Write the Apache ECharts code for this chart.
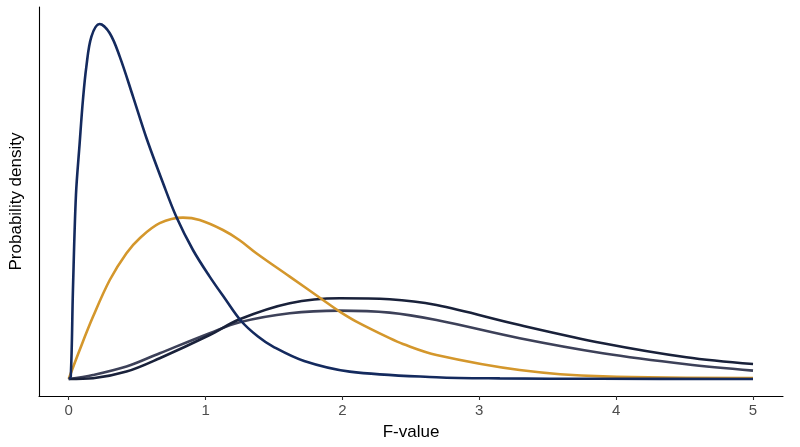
<!DOCTYPE html>
<html>
<head>
    <meta charset="utf-8">
    <title>F distribution</title>
    <script src="https://cdn.jsdelivr.net/npm/echarts@6/dist/echarts.min.js"></script>
    <style>
        html, body { margin: 0; padding: 0; background: #fff; }
        #chart { width: 800px; height: 447px; }
    </style>
</head>
<body>
<div id="chart"></div>
<script type="text/javascript">
    // values (F-value, density)
    var xBlue = [0, 0.015, 0.031, 0.053, 0.080, 0.104, 0.129, 0.166, 0.226, 0.300, 0.373, 0.470, 0.568, 0.689, 0.787, 0.908, 1.030, 1.140, 1.260, 1.383, 1.493, 1.720, 2.053, 2.687, 3.150, 3.880, 5.0];
    var yBlue = [0, 0.012, 0.445, 0.920, 1.178, 1.395, 1.562, 1.712, 1.775, 1.729, 1.612, 1.412, 1.205, 0.980, 0.810, 0.645, 0.512, 0.404, 0.290, 0.212, 0.162, 0.090, 0.037, 0.009, 0.003, 0.001, 0];

    var xGold = [0, 0.080, 0.178, 0.300, 0.422, 0.519, 0.665, 0.835, 0.957, 1.127, 1.249, 1.371, 1.615, 1.858, 1.980, 2.102, 2.345, 2.442, 2.687, 3.295, 3.902, 5.0];
    var yGold = [0, 0.145, 0.312, 0.495, 0.629, 0.704, 0.779, 0.807, 0.795, 0.745, 0.694, 0.629, 0.512, 0.395, 0.337, 0.287, 0.204, 0.175, 0.120, 0.045, 0.013, 0.005];

    var xGray = [0, 0.178, 0.422, 0.665, 1.030, 1.249, 1.615, 1.980, 2.345, 2.687, 3.295, 3.902, 4.513, 5.0];
    var yGray = [0, 0.020, 0.062, 0.129, 0.229, 0.284, 0.329, 0.342, 0.332, 0.295, 0.204, 0.129, 0.074, 0.042];

    var xDark = [0, 0.178, 0.422, 0.665, 1.030, 1.249, 1.615, 1.980, 2.345, 2.687, 3.295, 3.904, 4.513, 5.0];
    var yDark = [0, 0.004, 0.037, 0.104, 0.220, 0.299, 0.379, 0.404, 0.399, 0.370, 0.270, 0.179, 0.109, 0.075];

    var xTicks = [0, 1, 2, 3, 4, 5];

    function pairs(xs, ys) {
        var out = [];
        for (var i = 0; i < xs.length; i++) out.push([xs[i], ys[i]]);
        return out;
    }

    function curve(name, xs, ys, color) {
        return {
            name: name,
            type: 'line',
            data: pairs(xs, ys),
            showSymbol: false,
            smooth: 0.35,
            lineStyle: { color: color, width: 2.6 },
            itemStyle: { color: color }
        };
    }

    var myChart = echarts.init(document.getElementById('chart'));
    var options = {
        animation: false,
        backgroundColor: '#ffffff',
        textStyle: { fontFamily: 'Liberation Sans, Arial, sans-serif' },
        grid: { left: 39, right: 17, top: 7, bottom: 51, containLabel: false, outerBoundsMode: 'none' },
        xAxis: {
            type: 'value',
            min: -0.217,
            max: 5.219,
            name: 'F-value',
            nameLocation: 'middle',
            nameGap: 28,
            nameTextStyle: { color: '#000', fontSize: 17 },
            axisLine: { show: true, onZero: false, lineStyle: { color: '#000', width: 1.1 } },
            axisTick: { show: true, customValues: xTicks, length: 4, lineStyle: { color: '#333', width: 1.1 } },
            axisLabel: { customValues: xTicks, color: '#4d4d4d', fontSize: 15, margin: 7 },
            splitLine: { show: false }
        },
        yAxis: {
            type: 'value',
            min: -0.085,
            max: 1.86,
            name: 'Probability density',
            nameLocation: 'middle',
            nameGap: 14,
            nameTextStyle: { color: '#000', fontSize: 17 },
            axisLine: { show: true, onZero: false, lineStyle: { color: '#000', width: 1.1 } },
            axisTick: { show: false },
            axisLabel: { show: false },
            splitLine: { show: false }
        },
        series: [
            curve('df A', xGray, yGray, '#3d4159'),
            curve('df B', xDark, yDark, '#19213a'),
            curve('df C', xGold, yGold, '#d4972c'),
            curve('df D', xBlue, yBlue, '#142a5e')
        ]
    };
    myChart.setOption(options);
</script>
</body>
</html>
